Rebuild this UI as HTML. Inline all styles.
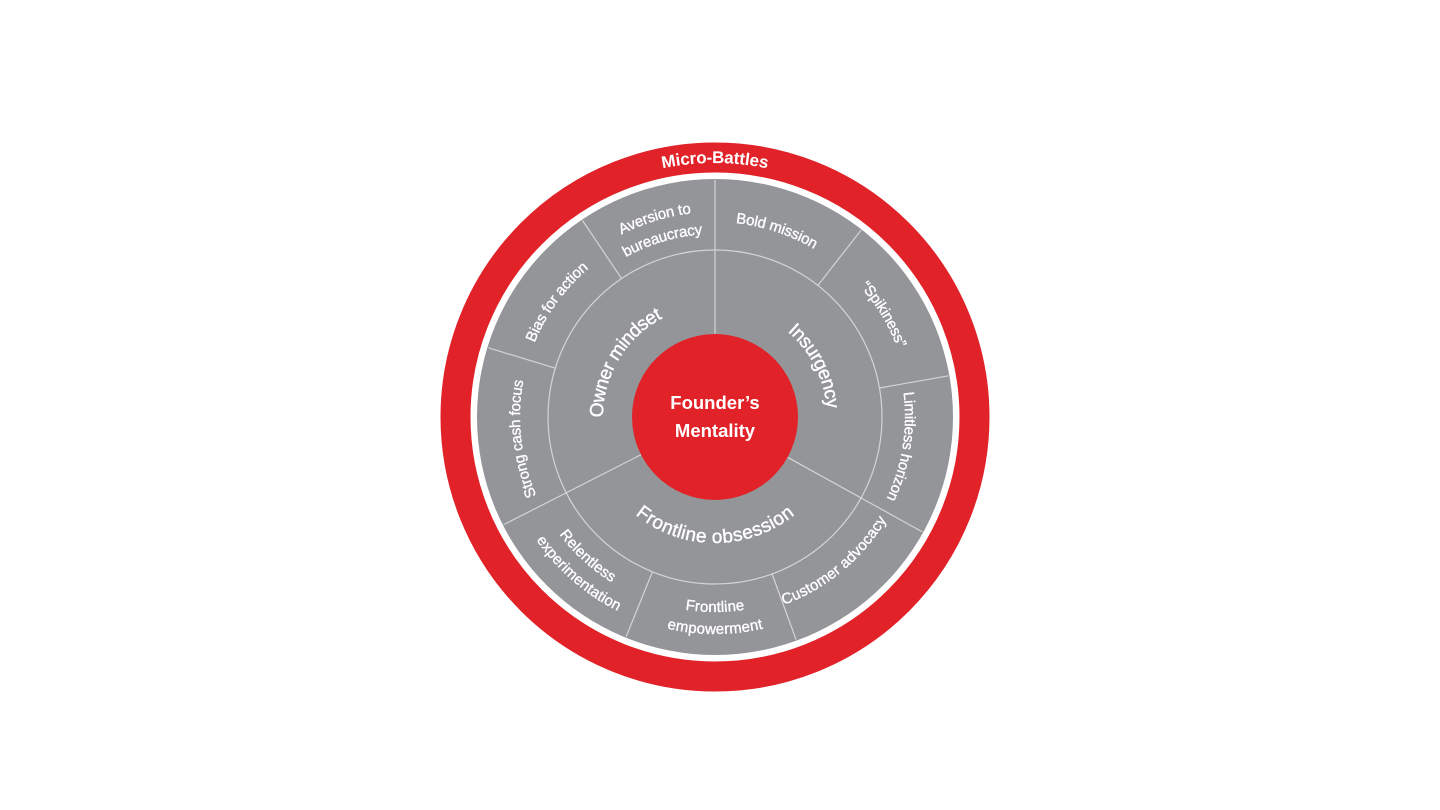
<!DOCTYPE html>
<html><head><meta charset="utf-8"><style>
html,body{margin:0;padding:0;background:#fff;width:1440px;height:810px;overflow:hidden}
svg text{font-family:"Liberation Sans",sans-serif;fill:#fff;}
</style></head><body>
<svg width="1440" height="810" viewBox="0 0 1440 810" xmlns="http://www.w3.org/2000/svg">
<defs>
<path id="cw260" d="M715,677 A260,260 0 1 1 715,157 A260,260 0 1 1 715,677"/>
<path id="cw210" d="M715,627 A210,210 0 1 1 715,207 A210,210 0 1 1 715,627"/>
<path id="cw200" d="M715,617 A200,200 0 1 1 715,217 A200,200 0 1 1 715,617"/>
<path id="cw188" d="M715,605 A188,188 0 1 1 715,229 A188,188 0 1 1 715,605"/>
<path id="cw195" d="M715,612 A195,195 0 1 1 715,222 A195,195 0 1 1 715,612"/>
<path id="cw118" d="M715,535 A118,118 0 1 1 715,299 A118,118 0 1 1 715,535"/>
<path id="ccw190" d="M715,227 A190,190 0 1 0 715,607 A190,190 0 1 0 715,227"/>
<path id="ccw212" d="M715,205 A212,212 0 1 0 715,629 A212,212 0 1 0 715,205"/>
<path id="ccw195" d="M715,222 A195,195 0 1 0 715,612 A195,195 0 1 0 715,222"/>
<path id="ccw120" d="M715,297 A120,120 0 1 0 715,537 A120,120 0 1 0 715,297"/>
</defs>
<circle cx="715" cy="417" r="259.5" fill="none" stroke="#e12228" stroke-width="30"/>
<circle cx="715" cy="417" r="238" fill="#939598"/>
<circle cx="715" cy="417" r="167" fill="none" stroke="#d4d4d6" stroke-width="1.2"/>
<g stroke="#d4d4d6" stroke-width="1.2">
<line x1="715" y1="334" x2="715" y2="180"/>
<line x1="817.9" y1="285.4" x2="861" y2="230.2"/>
<line x1="879.5" y1="388" x2="948.4" y2="375.8"/>
<line x1="787.6" y1="457.3" x2="922.4" y2="531.9"/>
<line x1="772.1" y1="574" x2="796.1" y2="639.7"/>
<line x1="652.4" y1="571.8" x2="626.2" y2="636.7"/>
<line x1="641" y1="454.7" x2="503.8" y2="524.6"/>
<line x1="555.3" y1="368.2" x2="488.4" y2="347.8"/>
<line x1="621.6" y1="278.6" x2="582.5" y2="220.5"/>
</g>
<circle cx="715" cy="417" r="83" fill="#e12228"/>
<text x="715" y="409" text-anchor="middle" font-size="18.5" font-weight="bold">Founder’s</text>
<text x="715" y="437" text-anchor="middle" font-size="18.5" font-weight="bold">Mentality</text>

<g font-size="17" font-weight="bold" dominant-baseline="central">
<text><textPath href="#cw260" startOffset="50%" text-anchor="middle">Micro-Battles</textPath></text>
</g>
<g font-size="15" dominant-baseline="central" stroke="#fff" stroke-width="0.35">
<text><textPath href="#cw210" startOffset="45.3%" text-anchor="middle">Aversion to</textPath></text>
<text><textPath href="#cw188" startOffset="45.4%" text-anchor="middle">bureaucracy</textPath></text>
<text><textPath href="#cw200" startOffset="55.1%" text-anchor="middle">Bold mission</textPath></text>
<text><textPath href="#cw200" startOffset="66.3%" text-anchor="middle">“Spikiness”</textPath></text>
<text><textPath href="#cw195" startOffset="77.5%" text-anchor="middle">Limitless horizon</textPath></text>
<text><textPath href="#cw200" startOffset="23.2%" text-anchor="middle">Strong cash focus</textPath></text>
<text><textPath href="#cw200" startOffset="35%" text-anchor="middle">Bias for action</textPath></text>
<text><textPath href="#ccw195" startOffset="61%" text-anchor="middle">Customer advocacy</textPath></text>
<text><textPath href="#ccw190" startOffset="50%" text-anchor="middle">Frontline</textPath></text>
<text><textPath href="#ccw212" startOffset="50%" text-anchor="middle">empowerment</textPath></text>
<text><textPath href="#ccw190" startOffset="38.2%" text-anchor="middle">Relentless</textPath></text>
<text><textPath href="#ccw212" startOffset="38.6%" text-anchor="middle">experimentation</textPath></text>
</g>
<g font-size="19" dominant-baseline="central" stroke="#fff" stroke-width="0.4">
<text><textPath href="#cw118" startOffset="33.6%" text-anchor="middle">Owner mindset</textPath></text>
<text><textPath href="#cw118" startOffset="67.5%" text-anchor="middle">Insurgency</textPath></text>
<text><textPath href="#ccw120" startOffset="50%" text-anchor="middle">Frontline obsession</textPath></text>
</g>
</svg>
</body></html>
